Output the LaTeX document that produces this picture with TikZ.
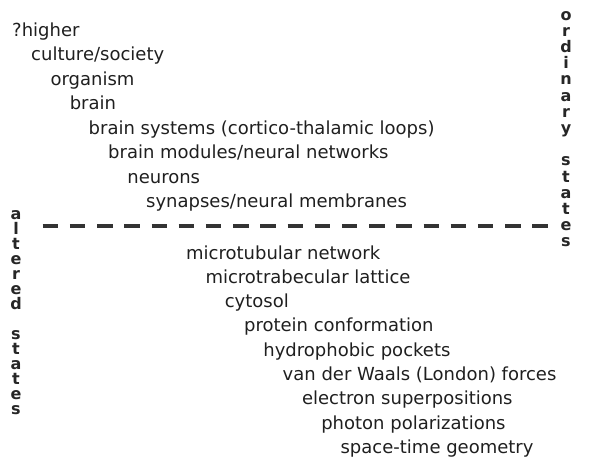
\documentclass[tikz,border=0pt]{standalone}
\usepackage{fontspec}
\setmainfont{DejaVu Sans}
\begin{document}
\begin{tikzpicture}[x=1pt,y=-1pt,
  lvl/.style={anchor=base west,inner sep=0pt,text=black!88,font=\fontsize{18}{20}\selectfont},
  vlet/.style={anchor=base,inner sep=0pt,text=black!85,font=\fontsize{16}{16}\selectfont\bfseries},
  divider/.style={line width=4pt,draw=black!80,dash pattern=on 15.5pt off 11.7pt}]
\useasboundingbox (0,0) rectangle (597,456);
% upper levels
\node[lvl] (u1) at (12,36) {?higher};
\node[lvl] (u2) at (31,60.5) {culture/society};
\node[lvl] (u3) at (50.4,85) {organism};
\node[lvl] (u4) at (69.6,109.5) {brain};
\node[lvl] (u5) at (88.5,134) {brain systems (cortico-thalamic loops)};
\node[lvl] (u6) at (108,158.5) {brain modules/neural networks};
\node[lvl] (u7) at (127.2,183) {neurons};
\node[lvl] (u8) at (146,207.5) {synapses/neural membranes};
% divider
\coordinate (dL) at (42.7,226);
\coordinate (dR) at (548.2,226);
\draw[divider] (dL) -- (dR);
% lower levels
\node[lvl] (l1) at (186,259) {microtubular network};
\node[lvl] (l2) at (205.3,283.3) {microtrabecular lattice};
\node[lvl] (l3) at (224.6,307.6) {cytosol};
\node[lvl] (l4) at (243.9,331.9) {protein conformation};
\node[lvl] (l5) at (263.2,356.2) {hydrophobic pockets};
\node[lvl] (l6) at (282.5,380.5) {van der Waals (London) forces};
\node[lvl] (l7) at (301.8,404.8) {electron superpositions};
\node[lvl] (l8) at (321.1,429.1) {photon polarizations};
\node[lvl] (l9) at (340.4,453.4) {space-time geometry};
% vertical labels
\foreach \c [count=\i] in {o,r,d,i,n,a,r,y,{},s,t,a,t,e,s}
  \node[vlet] (ord\i) at (566,{20+(\i-1)*16.2}) {\c};
\foreach \c [count=\i] in {a,l,t,e,r,e,d,{},s,t,a,t,e,s}
  \node[vlet] (alt\i) at (16,{219+(\i-1)*15}) {\c};
\end{tikzpicture}
\end{document}
